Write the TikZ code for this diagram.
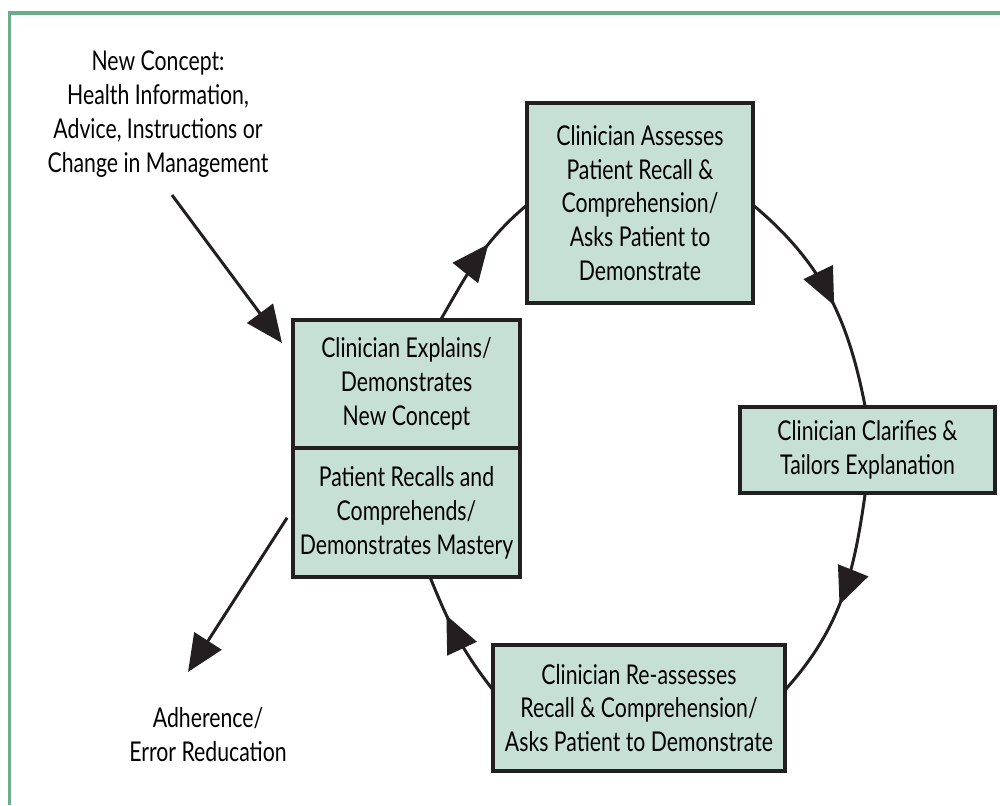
\documentclass[tikz,border=0pt]{standalone}
\usepackage{fontspec}
\setmainfont{Lato}[FakeStretch=0.78]
\usepackage{tikz}
\usetikzlibrary{arrows.meta,positioning,decorations.markings}
\definecolor{boxfill}{RGB}{199,224,213}
\definecolor{framegreen}{RGB}{108,172,140}
\definecolor{darkline}{RGB}{35,31,32}
\newcommand{\boxfont}{\fontsize{15.5pt}{19.3pt}\selectfont}
\tikzset{
    %Define standard arrow tip
    >={Triangle[length=0.74cm,width=0.64cm]},
    %Define style for boxes
    stepbox/.style={
           rectangle,
           draw=darkline, line width=1.8pt,
           fill=boxfill,
           outer sep=0pt,
           align=center,
           font=\boxfont},
    plain/.style={
           align=center,
           font=\boxfont},
    % Define arrow style
    flow/.style={
           draw=darkline,
           line width=1.7pt},
    midarrow/.style={
           flow,
           postaction={decorate},
           decoration={markings, mark=at position #1 with {\arrow{>}}}}
}
\begin{document}
\begin{tikzpicture}[x=0.02cm,y=0.02cm]
\useasboundingbox (0,0) rectangle (1000,-805);
 %frame
\draw[framegreen, line width=0.07cm] (8,-13) -- (1000,-13);
\draw[framegreen, line width=0.07cm] (9.5,-13) -- (9.5,-805);
 %nodes
\node[stepbox, minimum width=4.54cm, minimum height=2.56cm] (explain) at (406.5,-384) {Clinician Explains/\\Demonstrates\\New Concept};
\node[stepbox, minimum width=4.54cm, minimum height=2.58cm, below=0pt of explain] (recall) {Patient Recalls and\\Comprehends/\\Demonstrates Mastery};
\node[stepbox, minimum width=4.52cm, minimum height=4cm] (assess) at (640,-203) {Clinician Assesses\\Patient Recall \&\\Comprehension/\\Asks Patient to\\Demonstrate};
\node[stepbox, minimum width=5.1cm, minimum height=1.72cm] (clarify) at (867.5,-450) {Clinician Clarifies \&\\Tailors Explanation};
\node[stepbox, minimum width=5.84cm, minimum height=2.52cm] (reassess) at (639,-708) {Clinician Re-assesses\\Recall \& Comprehension/\\Asks Patient to Demonstrate};
\node[plain] (concept) at (158,-114) {New Concept:\\Health Information,\\Advice, Instructions or\\Change in Management};
\node[plain] (adherence) at (208,-735) {Adherence/\\Error Reducation};
\coordinate (inStart) at (172,-195);
\coordinate (outEnd) at (188,-672);
 %connectors
\draw[flow,->,shorten >=0.37cm] (inStart) -- (explain.167);
\draw[flow,->,shorten <=0.22cm] (recall.178) -- (outEnd);
\path[midarrow=0.62] (explain.62) to[out=60,in=220] (assess.181);
\path[midarrow=0.55] (assess.-1) to[out=-40,in=101] (clarify.93);
\path[midarrow=0.53] (clarify.-93) to[out=-98,in=48] (reassess.7);
\path[midarrow=0.68] (reassess.173) to[out=128,in=-68] (recall.-70);
\end{tikzpicture}
\end{document}
